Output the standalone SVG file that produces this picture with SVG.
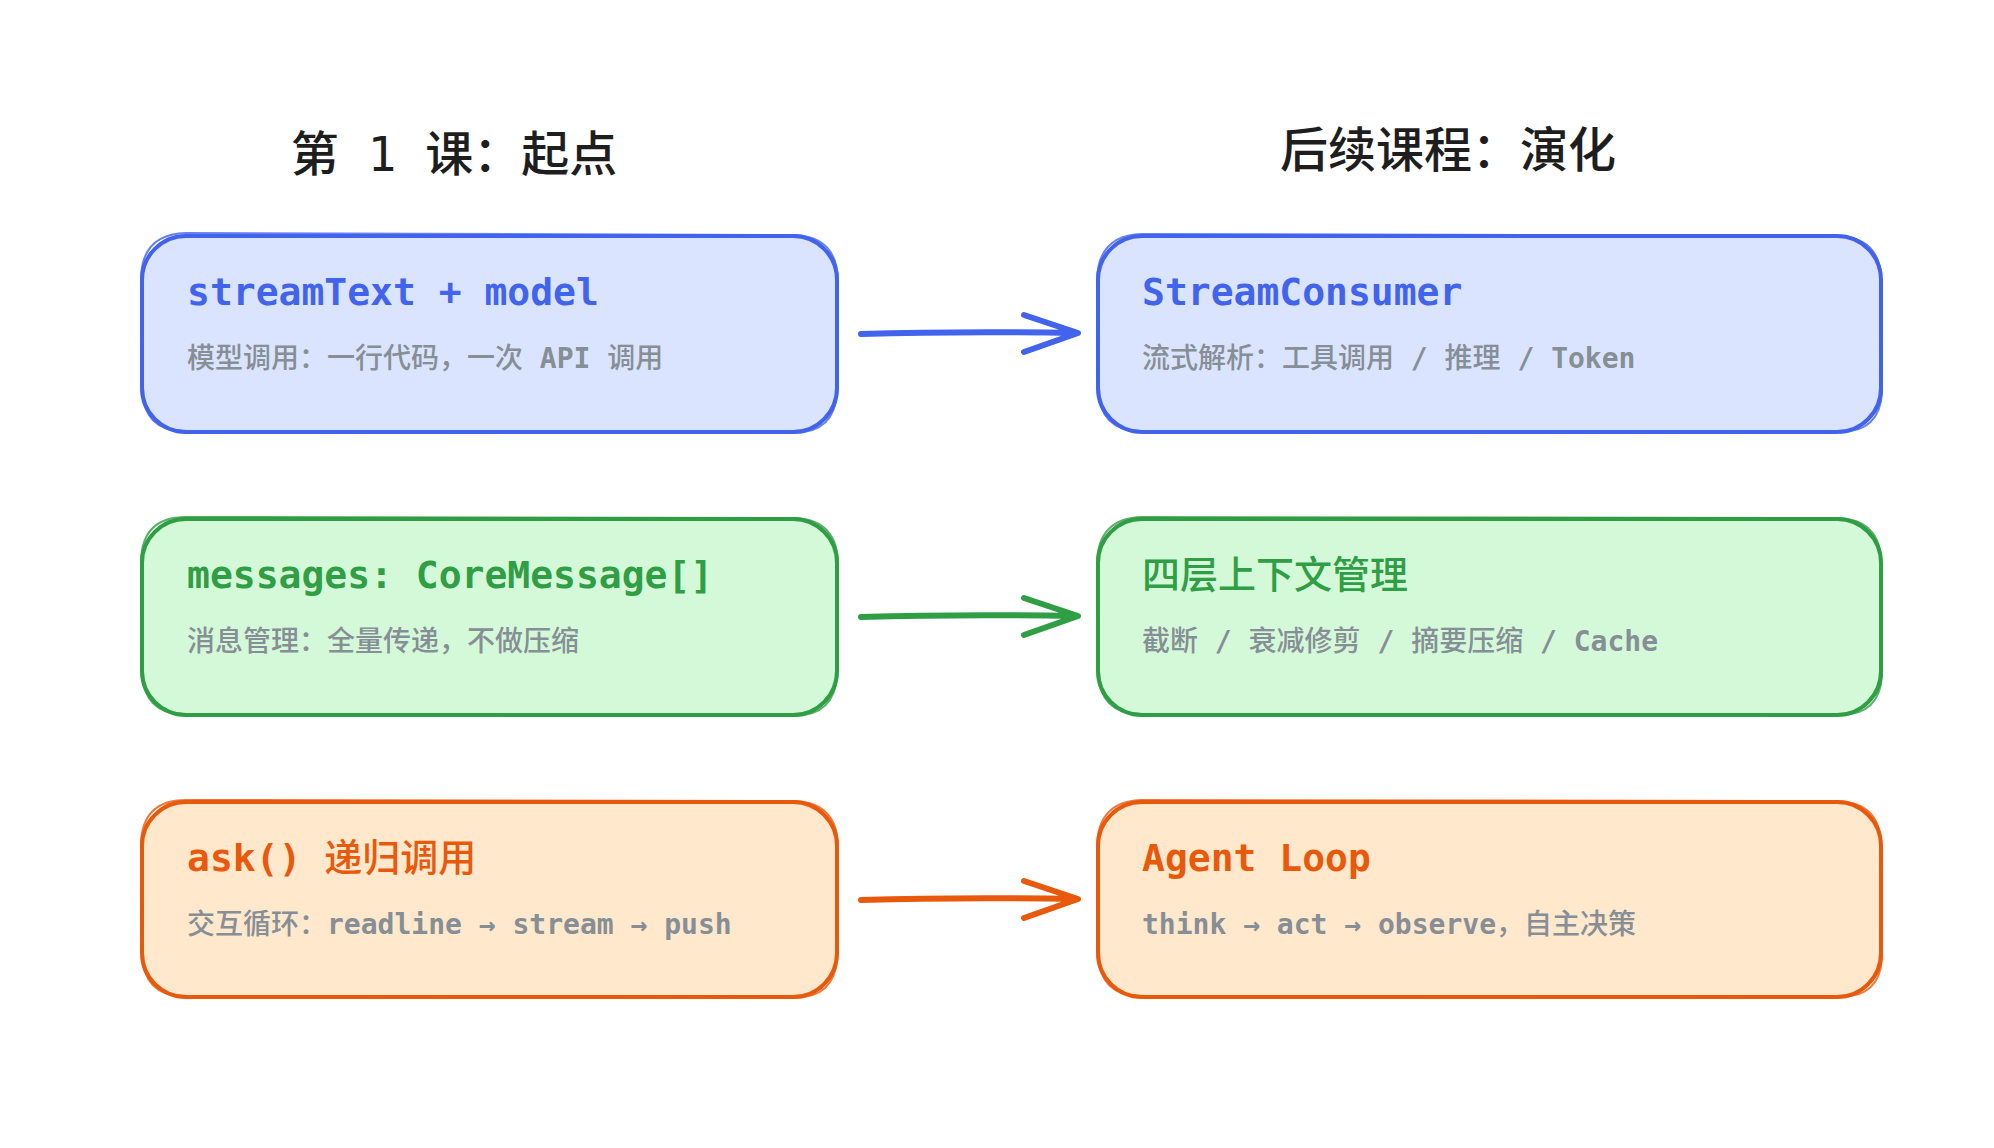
<svg xmlns="http://www.w3.org/2000/svg" width="1994" height="1148" viewBox="0 0 1994 1148">
<defs>
<style>
.head{font-family:"DejaVu Sans Mono","Noto Sans CJK SC",monospace;font-size:48px;font-weight:500;fill:#1e1e1e;text-anchor:middle}
.t{font-family:"DejaVu Sans Mono","Noto Sans CJK SC",monospace;font-size:38px;font-weight:bold}
.s{font-family:"DejaVu Sans Mono","Noto Sans CJK SC",monospace;font-size:28px;font-weight:500;fill:#868e96}
.b{font-weight:bold}
.c{font-weight:500}
.box{stroke-width:4;stroke-linejoin:round}
.box2{fill:none;stroke-width:2;opacity:0.8}
.blue .box,.blue .box2{stroke:#4263eb}.blue .box{fill:#dbe4ff}.blue .t{fill:#4263eb}
.green .box,.green .box2{stroke:#2f9e44}.green .box{fill:#d3f9d8}.green .t{fill:#2f9e44}
.orange .box,.orange .box2{stroke:#e8590c}.orange .box{fill:#ffe8cc}.orange .t{fill:#e8590c}
.arr{fill:none;stroke-width:6;stroke-linecap:round;stroke-linejoin:round}
</style>
</defs>
<rect width="1994" height="1148" fill="#ffffff"/>
<text class="head" x="454" y="171">第 1 课：起点</text>
<text class="head" x="1448" y="167">后续课程：演化</text>

<g id="node-streamtext" class="blue">
<rect class="box" x="142" y="236" width="695" height="196" rx="44"/>
<path class="box2" d="M186 233 L795 235 Q838 237 838 282 L837 392 Q835 433 793 433 L183 431 Q143 430 143 390 L141 278 Q142 234 186 233Z"/>
<text class="t" x="187" y="305">streamText + model</text>
<text class="s" x="187" y="368">模型调用：一行代码，一次 <tspan class="b">API</tspan> 调用</text>
</g>
<g id="node-streamconsumer" class="blue">
<rect class="box" x="1098" y="236" width="783" height="196" rx="44"/>
<path class="box2" d="M1142 234 L1838 236 Q1882 238 1881 282 L1882 392 Q1880 433 1838 432 L1140 431 Q1099 430 1099 390 L1097 280 Q1098 235 1142 234Z"/>
<text class="t" x="1142" y="305">StreamConsumer</text>
<text class="s" x="1142" y="368">流式解析：工具调用 <tspan class="b">/</tspan> 推理 <tspan class="b">/ Token</tspan></text>
</g>
<g id="node-messages" class="green">
<rect class="box" x="142" y="519" width="695" height="196" rx="44"/>
<path class="box2" d="M186 517 L795 518 Q838 520 838 565 L837 675 Q835 716 793 716 L183 714 Q143 713 143 673 L141 561 Q142 517 186 517Z"/>
<text class="t" x="187" y="588">messages: CoreMessage[]</text>
<text class="s" x="187" y="651">消息管理：全量传递，不做压缩</text>
</g>
<g id="node-context" class="green">
<rect class="box" x="1098" y="519" width="783" height="196" rx="44"/>
<path class="box2" d="M1142 517 L1838 518 Q1882 520 1881 565 L1882 675 Q1880 716 1838 715 L1140 714 Q1099 713 1099 673 L1097 563 Q1098 518 1142 517Z"/>
<text class="t c" x="1142" y="588">四层上下文管理</text>
<text class="s" x="1142" y="651">截断 <tspan class="b">/</tspan> 衰减修剪 <tspan class="b">/</tspan> 摘要压缩 <tspan class="b">/ Cache</tspan></text>
</g>
<g id="node-ask" class="orange">
<rect class="box" x="142" y="802" width="695" height="195" rx="44"/>
<path class="box2" d="M186 800 L795 801 Q838 803 838 848 L837 958 Q835 998 793 998 L183 996 Q143 995 143 955 L141 844 Q142 800 186 800Z"/>
<text class="t" x="187" y="871">ask() <tspan class="c">递归调用</tspan></text>
<text class="s" x="187" y="934">交互循环：<tspan class="b">readline → stream → push</tspan></text>
</g>
<g id="node-agentloop" class="orange">
<rect class="box" x="1098" y="802" width="783" height="195" rx="44"/>
<path class="box2" d="M1142 800 L1838 801 Q1882 803 1881 848 L1882 958 Q1880 998 1838 997 L1140 996 Q1099 995 1099 955 L1097 846 Q1098 801 1142 800Z"/>
<text class="t" x="1142" y="871">Agent Loop</text>
<text class="s" x="1142" y="934"><tspan class="b">think → act → observe</tspan>，自主决策</text>
</g>

<g id="connectors">
<path class="arr" stroke="#4263eb" d="M861 334 Q960 331 1077 333 M1024 315 L1078 333 L1024 352"/>
<path class="arr" stroke="#2f9e44" d="M861 617 Q960 614 1077 616 M1024 598 L1078 616 L1024 635"/>
<path class="arr" stroke="#e8590c" d="M861 900 Q960 897 1077 899 M1024 881 L1078 899 L1024 918"/>
</g>
</svg>
